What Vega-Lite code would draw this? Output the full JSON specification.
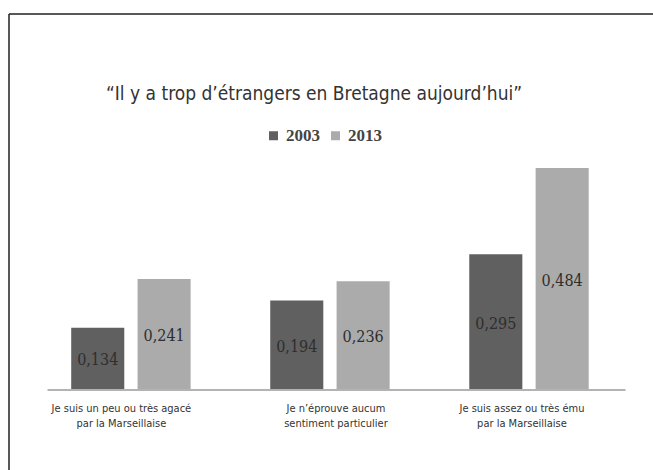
{
  "$schema": "https://vega.github.io/schema/vega-lite/v6.json",
  "autosize": {"type": "none"},
  "padding": {"left": 9, "top": 14, "right": 0, "bottom": 0},
  "width": 644,
  "height": 456,
  "background": "white",
  "title": {
    "text": "“Il y a trop d’étrangers en Bretagne aujourd’hui”",
    "orient": "top",
    "anchor": "middle",
    "frame": "group",
    "offset": -105,
    "baseline": "alphabetic",
    "dx": -17,
    "font": "DejaVu Sans Condensed, Liberation Sans Narrow, sans-serif",
    "fontSize": 19,
    "fontWeight": "normal",
    "color": "#333333"
  },
  "data": {
    "values": [
      {"cat": "Je suis un peu ou très agacé\npar la Marseillaise", "year": "2003", "v": 0.134},
      {"cat": "Je suis un peu ou très agacé\npar la Marseillaise", "year": "2013", "v": 0.241},
      {"cat": "Je n’éprouve aucum\nsentiment particulier", "year": "2003", "v": 0.194},
      {"cat": "Je n’éprouve aucum\nsentiment particulier", "year": "2013", "v": 0.236},
      {"cat": "Je suis assez ou très ému\npar la Marseillaise", "year": "2003", "v": 0.295},
      {"cat": "Je suis assez ou très ému\npar la Marseillaise", "year": "2013", "v": 0.484}
    ]
  },
  "encoding": {
    "x": {
      "field": "cat",
      "type": "nominal",
      "sort": null,
      "scale": {"range": [38, 616], "paddingInner": 0.4, "paddingOuter": 0.152, "align": 0.4},
      "axis": {
        "title": null,
        "orient": "bottom",
        "offset": -80.5,
        "ticks": false,
        "domainColor": "#9a9a9a",
        "domainWidth": 1.5,
        "labelAngle": 0,
        "labelExpr": "split(datum.label, '\\n')",
        "labelFont": "DejaVu Sans Condensed, Liberation Sans Narrow, sans-serif",
        "labelFontSize": 11,
        "labelColor": "#333333",
        "labelLineHeight": 14.5,
        "labelPadding": 13,
        "labelBaseline": "top",
        "labelLimit": 300,
        "labelOffset": {
          "condition": [
            {"test": "indexof(datum.value, 'agacé') >= 0", "value": -9.5},
            {"test": "indexof(datum.value, 'sentiment') >= 0", "value": 6}
          ],
          "value": -7
        }
      }
    },
    "xOffset": {
      "field": "year",
      "type": "nominal",
      "scale": {"paddingInner": 0.2, "paddingOuter": 0}
    }
  },
  "layer": [
    {
      "mark": {"type": "bar"},
      "encoding": {
        "y": {
          "field": "v",
          "type": "quantitative",
          "scale": {"domain": [0, 0.5], "range": [375, 146.7], "nice": false, "zero": true},
          "axis": null
        },
        "color": {
          "field": "year",
          "type": "nominal",
          "scale": {"domain": ["2003", "2013"], "range": ["#606060", "#ababab"]},
          "legend": {
            "title": null,
            "orient": "none",
            "legendX": 256,
            "legendY": 113,
            "direction": "horizontal",
            "padding": 0,
            "symbolType": "square",
            "symbolSize": 81,
            "symbolStrokeWidth": 0,
            "symbolOffset": 0,
            "labelOffset": 4,
            "columnPadding": 7,
            "labelFont": "Liberation Serif, DejaVu Serif, serif",
            "labelFontSize": 17,
            "labelFontWeight": "bold",
            "labelColor": "#444444"
          }
        }
      }
    },
    {
      "mark": {"type": "text", "baseline": "middle", "align": "center", "dy": 2, "font": "DejaVu Serif Condensed, Liberation Serif, serif", "fontSize": 16, "color": "#2e2e2e"},
      "encoding": {
        "y": {
          "field": "v",
          "type": "quantitative",
          "scale": {"domain": [0, 1], "range": [375, 146.7], "nice": false, "zero": true},
          "axis": null
        },
        "text": {"field": "v", "type": "quantitative", "format": ".3f"}
      }
    }
  ],
  "resolve": {"scale": {"y": "independent"}},
  "config": {
    "locale": {"number": {"decimal": ",", "thousands": " ", "grouping": [3], "currency": ["", " €"]}},
    "view": {"stroke": "#222222", "strokeWidth": 1.5, "strokeDash": [644, 1100, 456, 0]},
    "axis": {"grid": false}
  }
}
